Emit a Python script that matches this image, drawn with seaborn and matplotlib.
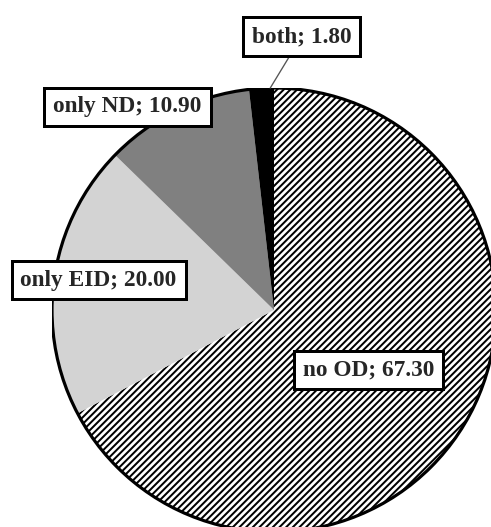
import numpy as np
import matplotlib
matplotlib.use("Agg")
import matplotlib.pyplot as plt
import seaborn as sns
from matplotlib.patches import Circle

# Shares of each group (percent)
categories = ["no OD", "only EID", "only ND", "both"]
shares = [67.30, 20.00, 10.90, 1.80]
slice_colors = ["white", "#d3d3d3", "#808080", "black"]
slice_hatches = ["//////", None, None, None]

# Label box centres, in pie units (centre = 0, radius = 1)
label_pos = {
    "no OD": (0.425, -0.27),
    "only EID": (-0.79, 0.135),
    "only ND": (-0.66, 0.915),
    "both": (0.124, 1.232),
}

sns.set_theme(style="white")
plt.rcParams["font.family"] = ["Liberation Serif", "DejaVu Serif"]
plt.rcParams["hatch.linewidth"] = 1.2

DPI = 120
W, H = 492, 527
fig = plt.figure(figsize=(W / DPI, H / DPI), dpi=DPI)
fig.patch.set_facecolor("white")

cx, cy, r = 274, 310, 222
ax = fig.add_axes([(cx - r) / W, (H - cy - r) / H, 2 * r / W, 2 * r / H])

wedges, _ = ax.pie(
    shares,
    colors=slice_colors,
    startangle=90,
    counterclock=False,
    radius=1,
    wedgeprops=dict(linewidth=0, edgecolor="black"),
)
for w, h in zip(wedges, slice_hatches):
    if h:
        w.set_hatch(h)

ax.add_patch(Circle((0, 0), 1, fill=False, edgecolor="black", lw=1.9, zorder=3))
ax.set_xlim(-1, 1)
ax.set_ylim(-1, 1)
ax.set_axis_off()

box = dict(boxstyle="square,pad=0.38", facecolor="white", edgecolor="black", lw=1.8)
for cat, val, w in zip(categories, shares, wedges):
    text = f"{cat}; {val:.2f}"
    tx, ty = label_pos[cat]
    if cat == "both":
        lo, hi = sorted((w.theta1, w.theta2))
        ang = np.deg2rad(lo + 0.15 * (hi - lo))
        ax.annotate(
            text, xy=(np.cos(ang), np.sin(ang)), xytext=(tx, ty),
            ha="center", va="center", fontsize=14, fontweight="bold",
            bbox=box, zorder=5, annotation_clip=False,
            arrowprops=dict(arrowstyle="-", color="#555555", lw=0.8,
                            shrinkA=0, shrinkB=0),
        )
    else:
        ax.text(tx, ty, text, ha="center", va="center", fontsize=14,
                fontweight="bold", bbox=box, zorder=5)

fig.savefig("out.png", dpi=DPI)
